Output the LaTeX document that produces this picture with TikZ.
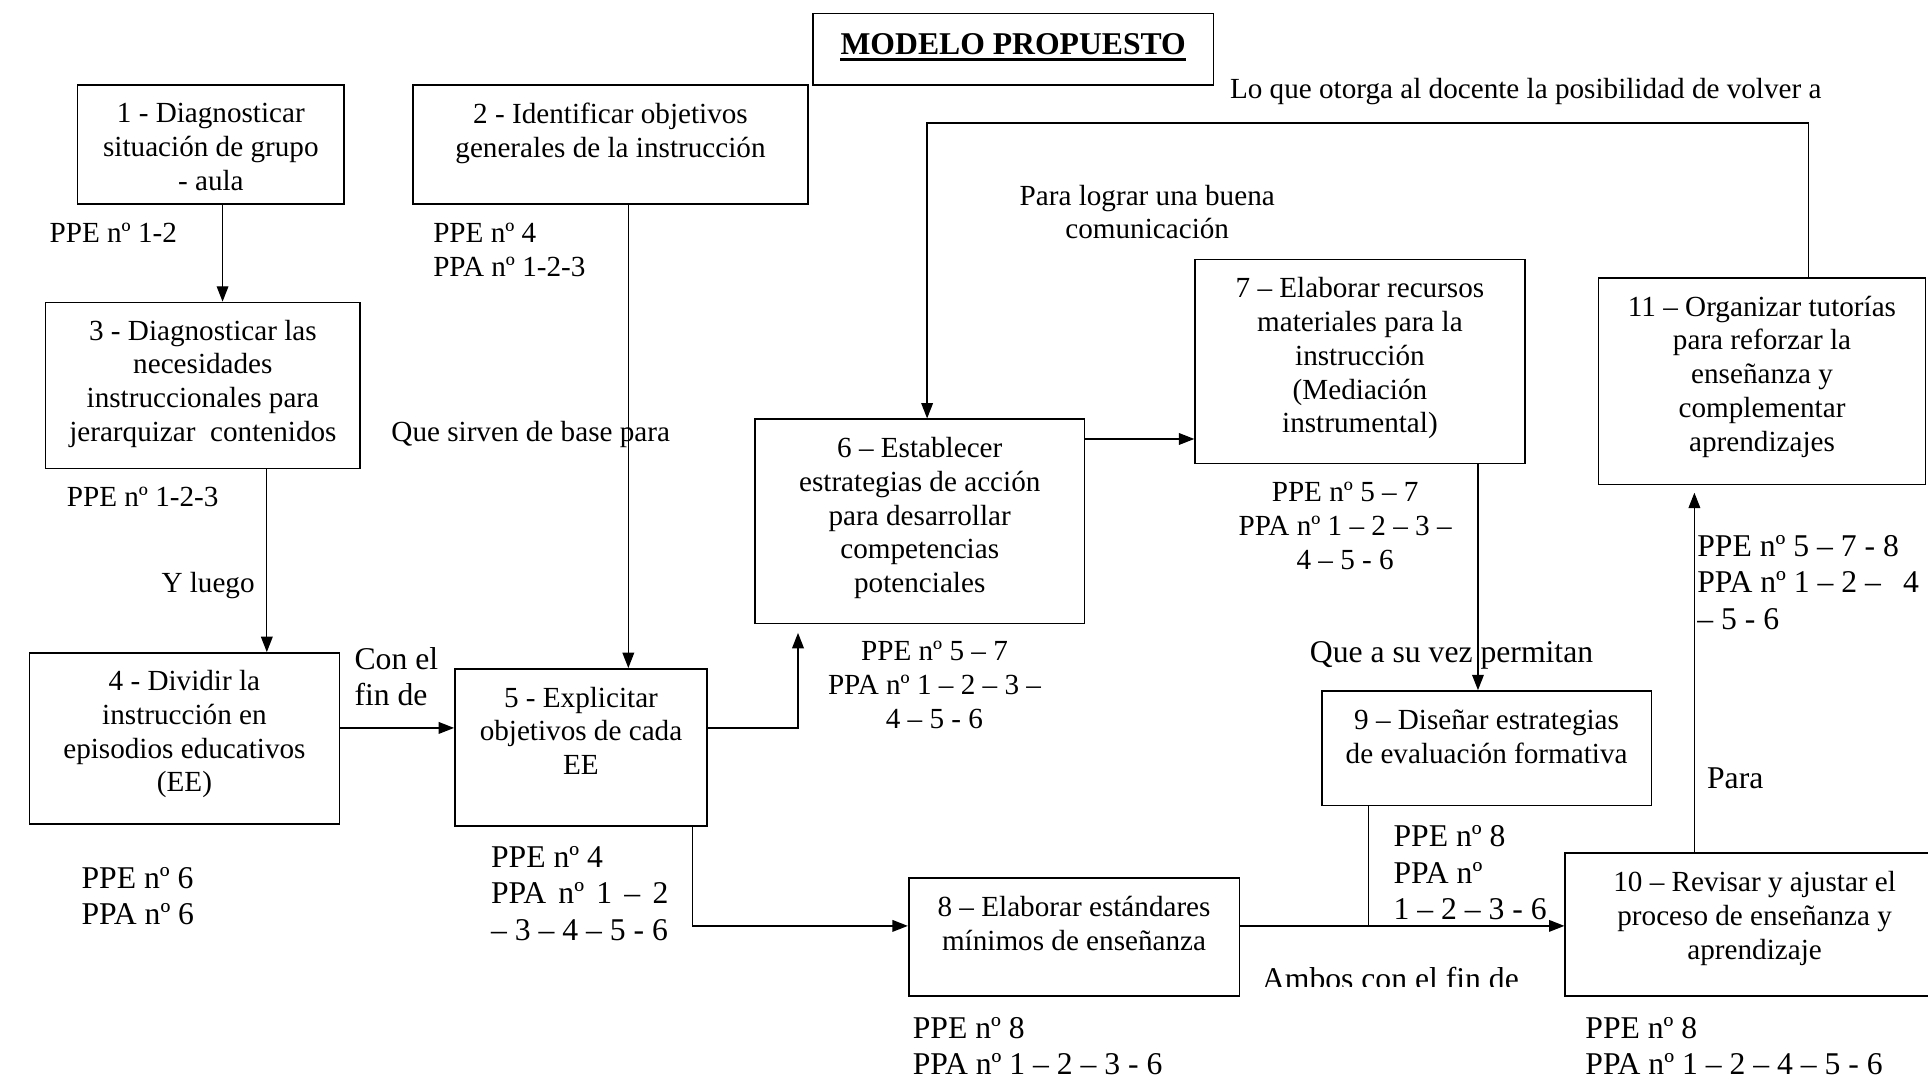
\documentclass[tikz,border=0pt]{standalone}
\usepackage{fontspec}
\setmainfont{Liberation Serif}
\usetikzlibrary{arrows.meta,fit}
\newcommand{\fsA}{\fontsize{13.5}{15.65}\selectfont}
\newcommand{\fsB}{\fontsize{14.66}{16.9}\selectfont}
\tikzset{
  box/.style={draw, line width=0.8pt, inner sep=0pt},
  boxtext/.style={anchor=north, align=center, inner sep=0pt, font=\fsA},
  note/.style={anchor=north west, align=left, inner sep=0pt, font=\fsA},
  bignote/.style={note, font=\fsB},
  cnote/.style={anchor=north, align=center, inner sep=0pt, font=\fsA},
  link/.style={line width=0.6pt},
  arrow/.style={link, -{Triangle[length=0.25cm,width=0.19cm]}},
}
\begin{document}
\begin{tikzpicture}[x=0.02cm,y=-0.02cm]
\clip (0,0) rectangle (1568,877);

% title
\node[box, fit={(661,11) (987,69)}] (tbox) {};
\node[anchor=base, inner sep=0pt, font=\fsB\bfseries] (title) at (824,44.7) {MODELO PROPUESTO};
\draw[line width=1.3pt] ([yshift=-0.07cm]title.base west) -- ([yshift=-0.07cm]title.base east);

% steps
\node[box, fit={(63,69) (280,166)}] (b1) {};
\node[boxtext] (t1) at ([yshift=-0.31cm]b1.north) {1 - Diagnosticar\\situación de grupo\\- aula};
\node[box, fit={(336,69) (657,166)}] (b2) {};
\node[boxtext] (t2) at ([yshift=-0.30cm]b2.north) {2 - Identificar objetivos\\generales de la instrucción};
\node[box, fit={(37,246) (293,381)}] (b3) {};
\node[boxtext] (t3) at ([yshift=-0.29cm]b3.north) {3 - Diagnosticar las\\necesidades\\instruccionales para\\jerarquizar\ \ contenidos};
\node[box, fit={(24,531) (276,670)}] (b4) {};
\node[boxtext] (t4) at ([yshift=-0.29cm]b4.north) {4 - Dividir la\\instrucción en\\episodios educativos\\(EE)};
\node[box, fit={(370,544) (575,672)}] (b5) {};
\node[boxtext] (t5) at ([yshift=-0.30cm]b5.north) {5 - Explicitar\\objetivos de cada\\EE};
\node[box, fit={(614,341) (882,507)}] (b6) {};
\node[boxtext] (t6) at ([yshift=-0.30cm]b6.north) {6 – Establecer\\estrategias de acción\\para desarrollar\\competencias\\potenciales};
\node[box, fit={(972,211) (1240,377)}] (b7) {};
\node[boxtext] (t7) at ([yshift=-0.30cm]b7.north) {7 – Elaborar recursos\\materiales para la\\instrucción\\(Mediación\\instrumental)};
\node[box, fit={(739,714) (1008,810)}] (b8) {};
\node[boxtext] (t8) at ([yshift=-0.30cm]b8.north) {8 – Elaborar estándares\\mínimos de enseñanza};
\node[box, fit={(1075,562) (1343,655)}] (b9) {};
\node[boxtext] (t9) at ([yshift=-0.32cm]b9.north) {9 – Diseñar estrategias\\de evaluación formativa};
\node[box, fit={(1273,694) (1581,810)}] (b10) {};
\node[boxtext] (t10) at ([yshift=-0.30cm]b10.north) {10 – Revisar y ajustar el\\proceso de enseñanza y\\aprendizaje};
\node[box, fit={(1300,226) (1566,394)}] (b11) {};
\node[boxtext] (t11) at ([yshift=-0.30cm]b11.north) {11 – Organizar tutorías\\para reforzar la\\enseñanza y\\complementar\\aprendizajes};

% routing columns and rows
\coordinate (c13) at (181,0);
\coordinate (c34) at (217,0);
\coordinate (c25) at (511,0);
\coordinate (r45) at (0,592);
\coordinate (c56) at (649,0);
\coordinate (c58) at (563,0);
\coordinate (r8) at (0,753);
\coordinate (r67) at (0,357);
\coordinate (c79) at (1202,0);
\coordinate (c9) at (1113,0);
\coordinate (c1011) at (1378,0);
\coordinate (cback) at (1471,0);
\coordinate (ctop) at (0,100);
\coordinate (c6) at (754,0);

% connectors
\draw[arrow] (b1.south -| c13) -- (b3.north -| c13);
\draw[arrow] (b3.south -| c34) -- (b4.north -| c34);
\draw[arrow] (b2.south -| c25) -- (b5.north -| c25);
\draw[arrow] (b4.east |- r45) -- (b5.west |- r45);
\draw[arrow, shorten >=0.14cm] (b5.east |- r45) -| (b6.south -| c56);
\draw[arrow] (b5.south -| c58) |- (b8.west |- r8);
\draw[arrow] (b6.east |- r67) -- (b7.west |- r67);
\draw[arrow] (b7.south -| c79) -- (b9.north -| c79);
\draw[arrow] (b8.east |- r8) -- (b10.west |- r8);
\draw[link] (b9.south -| c9) -- (c9 |- r8);
\draw[arrow, shorten >=0.12cm] (b10.north -| c1011) -- (b11.south -| c1011);
\draw[arrow] (b11.north -| cback) -- (cback |- ctop) -- (c6 |- ctop) -- (b6.north -| c6);

% annotations
\node[note] (n1) at (40,181) {PPE nº 1-2};
\node[note] (n2) at (352,181) {PPE nº 4\\PPA nº 1-2-3};
\node[note] (n3) at (54,396) {PPE nº 1-2-3};
\node[note] (n4) at (131,465) {Y luego};
\node[note] (n5) at (318,342) {Que sirven de base para};
\node[bignote] (n6) at (288,526) {Con el\\fin de};
\node[bignote] (n7) at (66,705) {PPE nº 6\\PPA nº 6};
\node[bignote] (n8) at (399,688) {PPE nº 4\\\makebox[5.6em][s]{PPA nº 1 – 2}\\– 3 – 4 – 5 - 6};
\node[cnote] (n9) at (933,150) {Para lograr una buena\\comunicación};
\node[note] (n10) at (1000,63) {Lo que otorga al docente la posibilidad de volver a};
\node[cnote] (n11) at (760,521) {PPE nº 5 – 7\\PPA nº 1 – 2 – 3 –\\4 – 5 - 6};
\node[cnote] (n12) at (1094,392) {PPE nº 5 – 7\\PPA nº 1 – 2 – 3 –\\4 – 5 - 6};
\node[bignote] (n13) at (1065,521) {Que a su vez permitan};
\node[bignote] (n14) at (1133,671) {PPE nº 8\\PPA nº\\1 – 2 – 3 - 6};
\begin{scope}
  \clip (1000,770) rectangle (1260,802);
  \node[bignote] (n15) at (1026,786) {Ambos con el fin de};
\end{scope}
\node[bignote] (n16) at (742,827) {PPE nº 8\\PPA nº 1 – 2 – 3 - 6};
\node[bignote] (n17) at (1289,827) {PPE nº 8\\PPA nº 1 – 2 – 4 – 5 - 6};
\node[bignote] (n18) at (1380,435) {PPE nº 5 – 7 - 8\\PPA nº 1 – 2 –\hspace{0.7em}4\\– 5 - 6};
\node[bignote] (n19) at (1388,624) {Para};
\end{tikzpicture}
\end{document}
